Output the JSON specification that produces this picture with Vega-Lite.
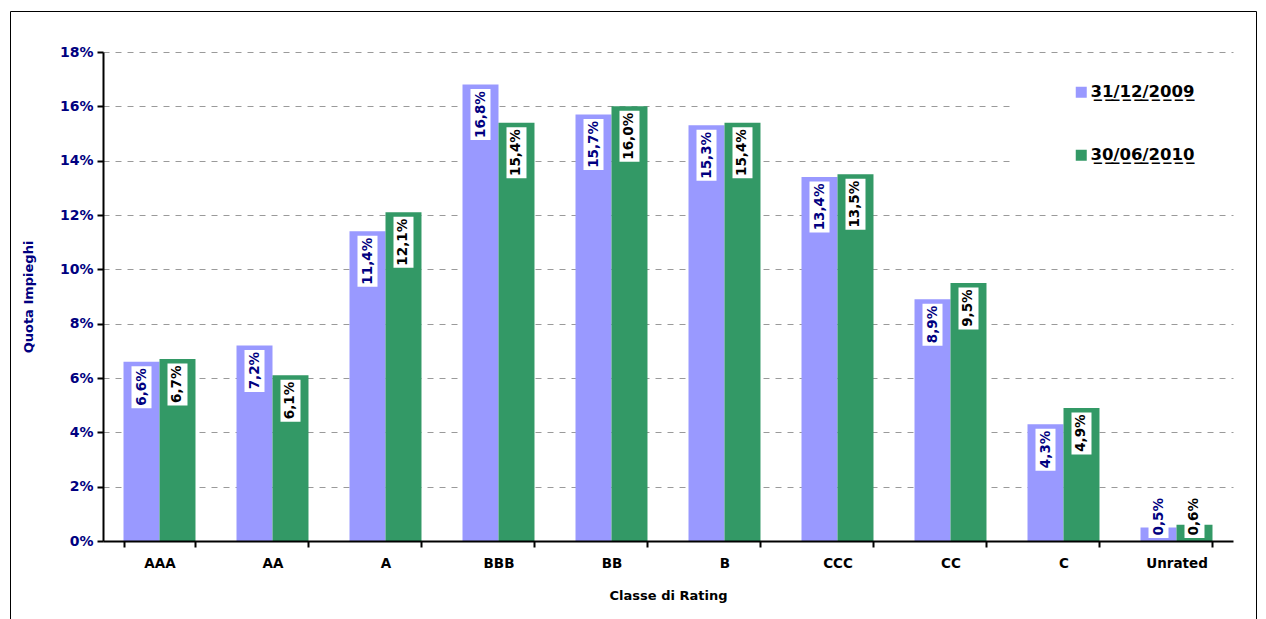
{
  "$schema": "https://vega.github.io/schema/vega-lite/v6.json",
  "width": 1246,
  "height": 615,
  "autosize": {"type": "none"},
  "padding": {"left": 10, "top": 11, "right": 10, "bottom": 0},
  "background": "white",
  "config": {
    "locale": {"number": {"decimal": ",", "thousands": ".", "grouping": [3], "currency": ["", " €"]}},
    "view": {"stroke": "#000000", "strokeWidth": 1},
    "font": "DejaVu Sans"
  },
  "data": {
    "values": [
      {"classe": "AAA", "data": "31/12/2009", "v": 0.066},
      {"classe": "AAA", "data": "30/06/2010", "v": 0.067},
      {"classe": "AA", "data": "31/12/2009", "v": 0.072},
      {"classe": "AA", "data": "30/06/2010", "v": 0.061},
      {"classe": "A", "data": "31/12/2009", "v": 0.114},
      {"classe": "A", "data": "30/06/2010", "v": 0.121},
      {"classe": "BBB", "data": "31/12/2009", "v": 0.168},
      {"classe": "BBB", "data": "30/06/2010", "v": 0.154},
      {"classe": "BB", "data": "31/12/2009", "v": 0.157},
      {"classe": "BB", "data": "30/06/2010", "v": 0.160},
      {"classe": "B", "data": "31/12/2009", "v": 0.153},
      {"classe": "B", "data": "30/06/2010", "v": 0.154},
      {"classe": "CCC", "data": "31/12/2009", "v": 0.134},
      {"classe": "CCC", "data": "30/06/2010", "v": 0.135},
      {"classe": "CC", "data": "31/12/2009", "v": 0.089},
      {"classe": "CC", "data": "30/06/2010", "v": 0.095},
      {"classe": "C", "data": "31/12/2009", "v": 0.043},
      {"classe": "C", "data": "30/06/2010", "v": 0.049},
      {"classe": "Unrated", "data": "31/12/2009", "v": 0.005},
      {"classe": "Unrated", "data": "30/06/2010", "v": 0.006}
    ]
  },
  "encoding": {
    "x": {
      "field": "classe",
      "type": "nominal",
      "sort": ["AAA", "AA", "A", "BBB", "BB", "B", "CCC", "CC", "C", "Unrated"],
      "scale": {"range": [93, 1223], "paddingInner": 0.363, "paddingOuter": 0.1815},
      "axis": {
        "orient": "bottom",
        "offset": -85,
        "zindex": 1,
        "tickBand": "extent",
        "labelAngle": 0,
        "domainColor": "#000000",
        "domainWidth": 2,
        "tickColor": "#000000",
        "tickWidth": 2,
        "tickSize": 6,
        "labelFont": "DejaVu Sans",
        "labelFontWeight": "bold",
        "labelFontSize": 13.5,
        "labelColor": "#000000",
        "labelPadding": 9,
        "title": "Classe di Rating",
        "titleFont": "DejaVu Sans",
        "titleFontWeight": "bold",
        "titleFontSize": 13,
        "titleColor": "#000000",
        "titlePadding": 20,
        "grid": false
      }
    },
    "xOffset": {
      "field": "data",
      "type": "nominal",
      "sort": ["31/12/2009", "30/06/2010"],
      "scale": {"paddingInner": 0, "paddingOuter": 0}
    }
  },
  "layer": [
    {
      "mark": {"type": "bar"},
      "encoding": {
        "y": {
          "field": "v",
          "type": "quantitative",
          "scale": {"domain": [0, 0.18], "range": [530, 41], "nice": false},
          "axis": {
            "orient": "left",
            "offset": -93,
            "zindex": 1,
            "values": [0, 0.02, 0.04, 0.06, 0.08, 0.1, 0.12, 0.14, 0.16, 0.18],
            "format": ".0%",
            "grid": false,
            "domainColor": "#000000",
            "domainWidth": 2,
            "tickColor": "#000000",
            "tickWidth": 2,
            "tickSize": 6,
            "labelFont": "DejaVu Sans",
            "labelFontWeight": "bold",
            "labelFontSize": 14,
            "labelColor": "#000080",
            "labelPadding": 4,
            "title": "Quota Impieghi",
            "titleFont": "DejaVu Sans",
            "titleFontWeight": "bold",
            "titleFontSize": 13,
            "titleColor": "#000080",
            "titlePadding": 24
          }
        },
        "color": {
          "field": "data",
          "type": "nominal",
          "scale": {"domain": ["31/12/2009", "30/06/2010"], "range": ["#9999FF", "#339966"]},
          "legend": {
            "orient": "none",
            "legendX": 1063,
            "legendY": 73,
            "title": null,
            "padding": 0,
            "symbolType": "square",
            "symbolSize": 121,
            "symbolStrokeWidth": 0,
            "labelFont": "DejaVu Sans",
            "labelFontWeight": "bold",
            "labelFontSize": 16.5,
            "labelColor": "#000000",
            "labelOffset": 1,
            "labelLimit": 300,
            "rowPadding": 46,
            "labelExpr": "replace(datum.label, regexp('(.)', 'g'), '$1\u0332')"
          }
        }
      }
    },
    {
      "mark": {
        "type": "tick",
        "orient": "vertical",
        "thickness": 20,
        "color": "#FFFFFF",
        "opacity": 1,
        "yOffset": {"expr": "min(4.5 + (datum.v >= 0.1 ? 51 : 42) / 2, scale('y', 0) - scale('y', datum.v) - 3 - (datum.v >= 0.1 ? 51 : 42) / 2)"}
      },
      "encoding": {
        "y": {
          "field": "v",
          "type": "quantitative",
          "axis": {
            "orient": "right",
            "offset": -1153,
            "zindex": 0,
            "values": [0.02, 0.04, 0.06, 0.08, 0.1, 0.12, 0.14, 0.16, 0.18],
            "domain": false,
            "labels": false,
            "grid": false,
            "title": null,
            "tickColor": "#9A9A9A",
            "tickWidth": 1,
            "tickDash": [6, 6],
            "tickSize": {"condition": {"test": "datum.value > 0.13 && datum.value < 0.17", "value": 909}, "value": 1130}
          }
        },
        "size": {"condition": {"test": "datum.v >= 0.1", "value": 51}, "value": 42}
      }
    },
    {
      "mark": {
        "type": "text",
        "angle": 270,
        "align": "right",
        "baseline": "middle",
        "font": "DejaVu Sans",
        "fontWeight": "bold",
        "fontSize": 13.5,
        "dx": {"expr": "-min(6.5, scale('y', 0) - scale('y', datum.v) - 1 - (datum.v >= 0.1 ? 51 : 42))"}
      },
      "encoding": {
        "y": {"field": "v", "type": "quantitative", "axis": null},
        "text": {"field": "v", "type": "quantitative", "format": ".1%"},
        "color": {"condition": {"test": "datum.data === '31/12/2009'", "value": "#000080"}, "value": "#000000"}
      }
    }
  ],
  "resolve": {"axis": {"y": "independent"}}
}
